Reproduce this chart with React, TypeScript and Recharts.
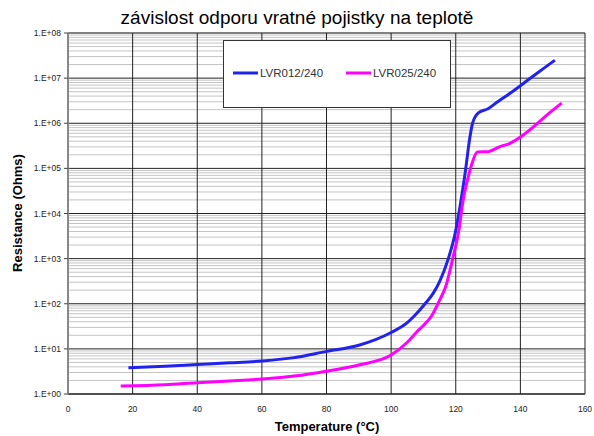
import { LineChart, Line, XAxis, YAxis, CartesianGrid, Legend } from "recharts"

const FONT = "'Liberation Sans', Arial, sans-serif"

// LVR012/240
const temp012 = [18.7, 30, 40, 50, 60, 70, 80, 90, 100, 105, 107, 110.5, 113, 115, 117.7, 119.8, 121.3, 122.9, 124.4, 125.2, 127, 130, 133, 136.8, 140, 143.9, 147, 150.7]
const res012 = [3.8, 4.1, 4.5, 4.9, 5.4, 6.4, 8.8, 12, 23, 38, 52, 100, 170, 310, 1000, 3600, 14000, 78000, 500000, 1000000, 1700000, 2100000, 3000000, 4600000, 6800000, 11000000, 16000000, 25000000]

// LVR025/240
const temp025 = [16.3, 30, 40, 50, 60, 70, 80, 90, 100, 105, 108, 110, 112.6, 115, 116.9, 119.2, 120.8, 122.3, 123.9, 124.9, 126.7, 130.1, 133.5, 136.8, 140.9, 145, 149, 152.8]
const res025 = [1.5, 1.6, 1.78, 1.95, 2.15, 2.5, 3.2, 4.4, 7.3, 14, 24, 33, 55, 120, 240, 1100, 3600, 20000, 66000, 120000, 230000, 235000, 300000, 360000, 550000, 950000, 1700000, 2800000]

const seriesNames = ["LVR012/240", "LVR025/240"]
const seriesColors = ["#2222ee", "#ff00ff"]

const xTicks = [0, 20, 40, 60, 80, 100, 120, 140, 160]
const yTicks = [1, 10, 100, 1e3, 1e4, 1e5, 1e6, 1e7, 1e8]
const minorTicks = yTicks.slice(0, -1).flatMap((d) => [2, 3, 4, 5, 6, 7, 8, 9].map((m) => d * m))

const data012 = temp012.map((t, i) => ({ t, r: res012[i] }))
const data025 = temp025.map((t, i) => ({ t, r: res025[i] }))

const fmtExp = (v: number) => {
  const e = Math.round(Math.log10(v))
  return `1.E+${String(e).padStart(2, "0")}`
}

function LegendBox() {
  return (
    <svg width={228} height={68} style={{ display: "block" }}>
      <rect x={0.5} y={0.5} width={227} height={67} fill="#fff" stroke="#333" />
      {seriesNames.map((name, i) => {
        const x0 = 10 + i * 113
        return (
          <g key={name}>
            <line x1={x0} x2={x0 + 25} y1={33} y2={33} stroke={seriesColors[i]} strokeWidth={3} />
            <text x={x0 + 27} y={37} fontSize={11.5} fill="#333" fontFamily={FONT}>
              {name}
            </text>
          </g>
        )
      })}
    </svg>
  )
}

export default function App() {
  return (
    <div style={{ position: "absolute", left: 0, top: 0, background: "#fff" }}>
      <LineChart width={594} height={436} margin={{ top: 33, right: 9, bottom: 0, left: 0 }}>
        <CartesianGrid vertical={false} yAxisId="minor" stroke="#c4c4c4" />
        <CartesianGrid stroke="#222" />
        <XAxis
          dataKey="t"
          type="number"
          domain={[0, 160]}
          ticks={xTicks}
          allowDataOverflow
          height={42}
          tickLine={false}
          tickSize={8}
          tickMargin={4}
          axisLine={{ stroke: "#222" }}
          tick={{ fontSize: 8.5, fill: "#222", fontFamily: FONT }}
        />
        <YAxis
          type="number"
          scale="log"
          domain={[1, 1e8]}
          ticks={yTicks}
          allowDataOverflow
          width={68}
          tickSize={4}
          tickMargin={3}
          tickFormatter={fmtExp}
          axisLine={{ stroke: "#888", strokeWidth: 2 }}
          tickLine={{ stroke: "#444" }}
          tick={{ fontSize: 8.5, fill: "#222", fontFamily: FONT }}
        />
        <YAxis
          yAxisId="minor"
          type="number"
          scale="log"
          domain={[1, 1e8]}
          ticks={minorTicks}
          interval={0}
          allowDataOverflow
          hide
          width={0}
        />
        <Legend
          layout="horizontal"
          verticalAlign="middle"
          align="center"
          wrapperStyle={{ left: 223, top: 40, width: 228, height: 68 }}
          content={() => <LegendBox />}
        />
        <Line
          data={data012}
          dataKey="r"
          name={seriesNames[0]}
          type="monotone"
          stroke={seriesColors[0]}
          strokeWidth={3}
          dot={false}
          isAnimationActive={false}
        />
        <Line
          data={data025}
          dataKey="r"
          name={seriesNames[1]}
          type="monotone"
          stroke={seriesColors[1]}
          strokeWidth={3}
          dot={false}
          isAnimationActive={false}
        />
        <text x={297} y={24} textAnchor="middle" fontSize={19} fill="#000" fontFamily={FONT}>
          závislost odporu vratné pojistky na teplotě
        </text>
        <text x={327} y={431} textAnchor="middle" fontSize={13} fontWeight="bold" fill="#000" fontFamily={FONT}>
          Temperature (°C)
        </text>
        <text
          transform="translate(22,213) rotate(-90)"
          textAnchor="middle"
          fontSize={13}
          fontWeight="bold"
          fill="#000"
          fontFamily={FONT}
        >
          Resistance (Ohms)
        </text>
      </LineChart>
    </div>
  )
}
